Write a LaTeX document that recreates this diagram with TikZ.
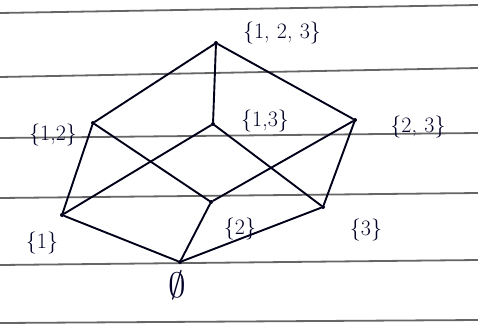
\documentclass[tikz,border=0pt]{standalone}
\begin{document}
\begin{tikzpicture}[x=1pt,y=-1pt,
  ink/.style={draw=black!90!blue, line width=1.9pt, line cap=round, line join=round},
  rule/.style={draw=black!60, line width=1.8pt},
  vtx/.style={circle, fill=black!90!blue, inner sep=0pt, minimum size=4pt},
  lbl/.style={text=black!85!blue, font=\fontsize{22}{26}\selectfont, inner sep=0pt}]
\useasboundingbox (0,0) rectangle (478,327);
\fill[white] (0,0) rectangle (478,327);
% notebook rulings
\coordinate (r1a) at (0,13); \coordinate (r1b) at (478,5);
\coordinate (r2a) at (0,77); \coordinate (r2b) at (478,68);
\coordinate (r3a) at (0,138); \coordinate (r3b) at (478,133);
\coordinate (r4a) at (0,198); \coordinate (r4b) at (478,193);
\coordinate (r5a) at (0,265); \coordinate (r5b) at (478,260);
\coordinate (r6a) at (0,323); \coordinate (r6b) at (478,320);
\foreach \i in {1,...,6} \draw[rule] (r\i a) -- (r\i b);
% vertices
\node[vtx] (t) at (216,43) {};
\node[vtx] (a12) at (93,123) {};
\node[vtx] (a13) at (213,124) {};
\node[vtx] (a23) at (355,120) {};
\node[vtx] (s1) at (62,215) {};
\node[vtx] (s2) at (211,202) {};
\node[vtx] (s3) at (323,207) {};
\node[vtx] (e) at (180,262) {};
% edges
\draw[ink] (t) -- (a12);
\draw[ink] (t) -- (a13);
\draw[ink] (t) -- (a23);
\draw[ink] (a12) -- (s1);
\draw[ink] (a12) -- (s2);
\draw[ink] (a13) -- (s1);
\draw[ink] (a13) -- (s3);
\draw[ink] (a23) -- (s2);
\draw[ink] (a23) -- (s3);
\draw[ink] (s1) -- (e);
\draw[ink] (s2) -- (e);
\draw[ink] (s3) -- (e);
% labels
\node[lbl] (l123) at (282,33) {\{1,\,\,2,\,\,3\}};
\node[lbl] (l12) at (53,135) {\{1,2\}};
\node[lbl] (l13) at (265,121) {\{1,3\}};
\node[lbl] (l23) at (418,127) {\{2,\,\,3\}};
\node[lbl] (l1) at (42,243) {\{1\}};
\node[lbl] (l2) at (240,229) {\{2\}};
\node[lbl] (l3) at (366,230) {\{3\}};
\node[lbl] (le) at (177,285) {\scalebox{1.7}{$\emptyset$}};
\end{tikzpicture}
\end{document}
